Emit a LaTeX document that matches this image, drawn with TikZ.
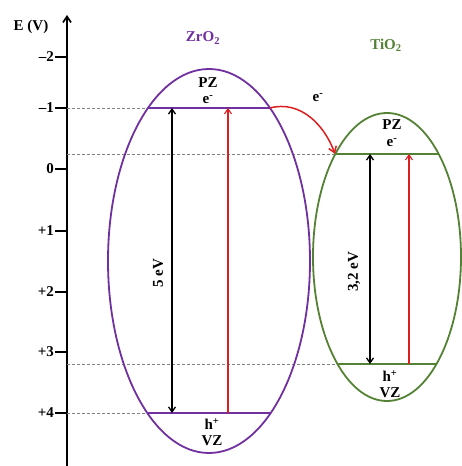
\documentclass[tikz,border=0pt]{standalone}
\usepackage{fontspec}
\setmainfont{Liberation Serif}
\usetikzlibrary{arrows.meta}
\definecolor{zpurple}{RGB}{112,48,160}
\definecolor{tgreen}{RGB}{84,130,53}
\definecolor{ered}{RGB}{220,30,30}
\begin{document}
\begin{tikzpicture}[x=1pt,y=1pt,
  lbl/.style={font=\fontsize{15}{17}\selectfont\bfseries, inner sep=0pt},
  guide/.style={gray, dash pattern=on 3pt off 2pt, line width=0.6pt},
  band/.style={line width=1.4pt},
  tickln/.style={line width=1.5pt},
  garrow/.style={line width=1.1pt, -{Straight Barb[length=5pt,width=7pt]}},
  darrow/.style={line width=1.3pt, {Straight Barb[length=5pt,width=7pt]}-{Straight Barb[length=5pt,width=7pt]}}
]
\useasboundingbox (0,0) rectangle (461,466);
% axis
\coordinate (axb) at (67,0);
\coordinate (axt) at (67,451);
\draw[line width=1.6pt, -{Straight Barb[length=6pt,width=8pt]}] (axb) -- (axt);
\node[lbl] (elbl) at (31,439) {E (V)};
% ticks
\coordinate (tm2) at (67,409); \coordinate (sm2) at (55,409);
\coordinate (tm1) at (67,358); \coordinate (sm1) at (55,358);
\coordinate (tz0) at (67,297); \coordinate (sz0) at (55,297);
\coordinate (tp1) at (67,235); \coordinate (sp1) at (55,235);
\coordinate (tp2) at (67,174); \coordinate (sp2) at (55,174);
\coordinate (tp3) at (67,114); \coordinate (sp3) at (55,114);
\coordinate (tp4) at (67,53);  \coordinate (sp4) at (55,53);
\draw[tickln] (sm2) -- (tm2);
\draw[tickln] (sm1) -- (tm1);
\draw[tickln] (sz0) -- (tz0);
\draw[tickln] (sp1) -- (tp1);
\draw[tickln] (sp2) -- (tp2);
\draw[tickln] (sp3) -- (tp3);
\draw[tickln] (sp4) -- (tp4);
\node[lbl, anchor=east] (lm2) at (54,409) {–2};
\node[lbl, anchor=east] (lm1) at (54,358) {–1};
\node[lbl, anchor=east] (lz0) at (54,297) {0};
\node[lbl, anchor=east] (lp1) at (54,235) {+1};
\node[lbl, anchor=east] (lp2) at (54,174) {+2};
\node[lbl, anchor=east] (lp3) at (54,114) {+3};
\node[lbl, anchor=east] (lp4) at (54,53) {+4};
% band coordinates
\coordinate (zcbL) at (148,358); \coordinate (zcbR) at (270,358);
\coordinate (zvbL) at (148,53);  \coordinate (zvbR) at (270,53);
\coordinate (tcbL) at (335,312); \coordinate (tcbR) at (439,312);
\coordinate (tvbL) at (338,102); \coordinate (tvbR) at (436,102);
\coordinate (taxc) at (67,312);  \coordinate (taxv) at (67,102);
% guides
\draw[guide] (tm1) -- (zcbL);
\draw[guide] (tp4) -- (zvbL);
\draw[guide] (taxc) -- (tcbL);
\draw[guide] (taxv) -- (tvbL);
% ellipses
\draw[zpurple, line width=1.8pt] (209,205) ellipse [x radius=101, y radius=192];
\draw[tgreen, line width=1.8pt] (387,209) ellipse [x radius=74, y radius=144];
% bands
\draw[band, zpurple] (zcbL) -- (zcbR);
\draw[band, zpurple] (zvbL) -- (zvbR);
\draw[band, tgreen] (tcbL) -- (tcbR);
\draw[band, tgreen] (tvbL) -- (tvbR);
% ZrO2 arrows
\coordinate (za1) at (172,358); \coordinate (za2) at (172,53);
\coordinate (zr1) at (228,53);  \coordinate (zr2) at (228,358);
\draw[darrow] (za2) -- (za1);
\node[lbl, rotate=90] (zgap) at (158,193) {5 eV};
\draw[garrow, ered] (zr1) -- (zr2);
% TiO2 arrows
\coordinate (ta1) at (370,312); \coordinate (ta2) at (370,102);
\coordinate (tr1) at (409,102); \coordinate (tr2) at (409,312);
\draw[darrow] (ta2) -- (ta1);
\node[lbl, rotate=90] (tgap) at (354,194) {3,2 eV};
\draw[garrow, ered] (tr1) -- (tr2);
% transfer
\draw[line width=1.5pt, ered, -{Straight Barb[length=6pt,width=8pt]}] (zcbR) to[out=15,in=110] (tcbL);
\node[lbl] (etr) at (318,368) {e\textsuperscript{-}};
% labels
\node[lbl] (zpz) at (208,383) {PZ};
\node[lbl] (ze) at (208,366) {e\textsuperscript{-}};
\node[lbl] (zh) at (212,42) {h\textsuperscript{+}};
\node[lbl] (zvz) at (212,25) {VZ};
\node[lbl] (tpz) at (392,341) {PZ};
\node[lbl] (te) at (392,323) {e\textsuperscript{-}};
\node[lbl] (th) at (390,90) {h\textsuperscript{+}};
\node[lbl] (tvz) at (390,73) {VZ};
\node[lbl, text=zpurple] (zt) at (203,428) {ZrO\textsubscript{2}};
\node[lbl, text=tgreen] (tt) at (386,421) {TiO\textsubscript{2}};
\end{tikzpicture}
\end{document}
